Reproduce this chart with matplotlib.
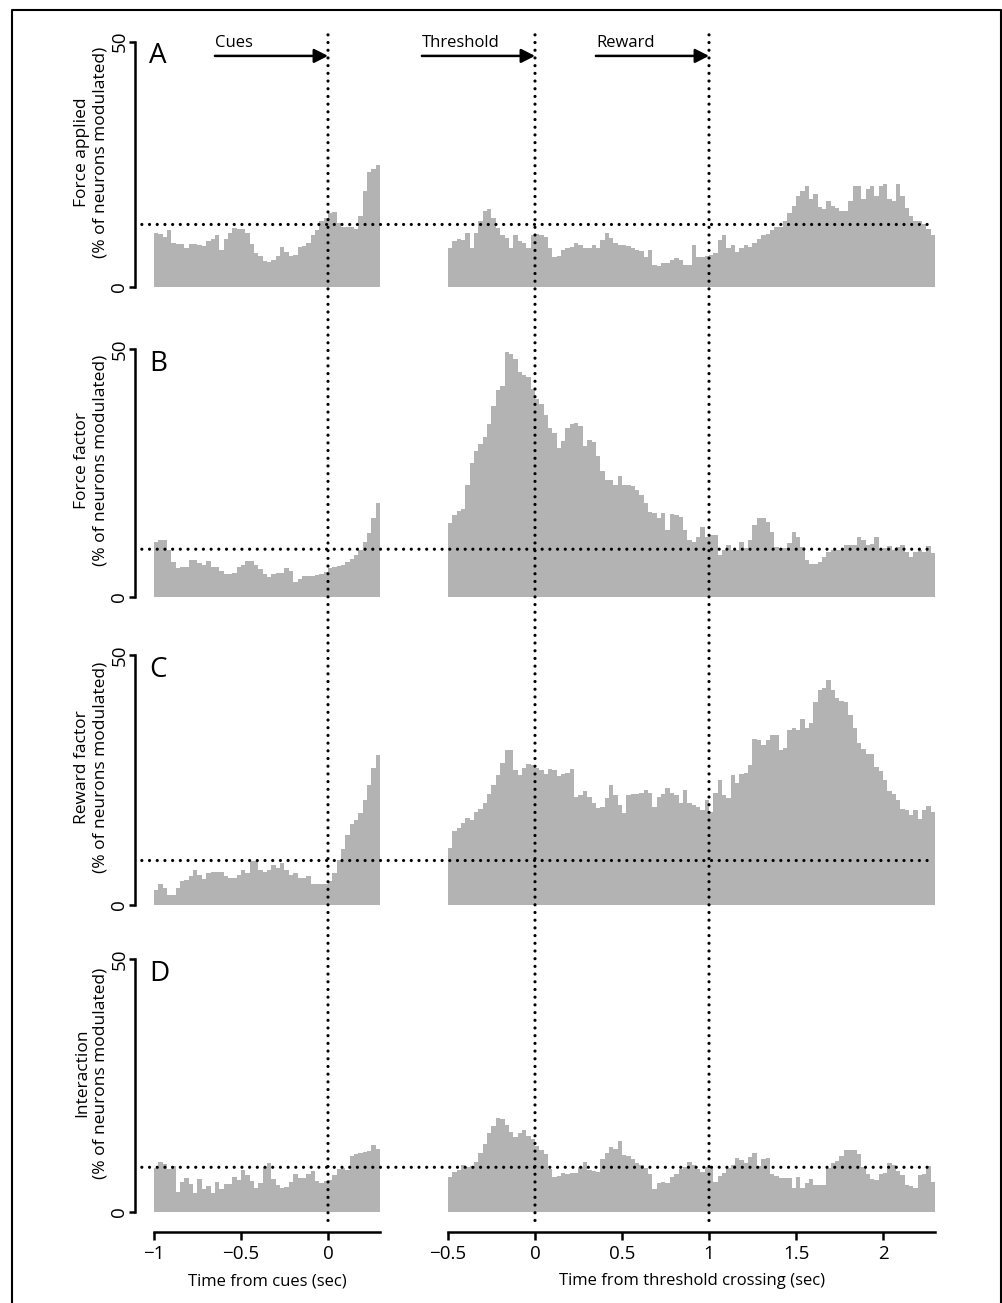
import numpy as np
import matplotlib
matplotlib.use('Agg')
import matplotlib.pyplot as plt
from matplotlib.patches import ConnectionPatch
from matplotlib.lines import Line2D
from matplotlib.transforms import blended_transform_factory

plt.rcParams['font.family'] = ['Open Sans', 'DejaVu Sans']

# bins: 25 ms, cue window -1..0.3 s, threshold window -0.5..2.3 s
bin_width = 0.025
cue_start, thr_start = -1.0, -0.5

panel_letters = ['A', 'B', 'C', 'D']
panel_names = ['Force applied', 'Force factor', 'Reward factor', 'Interaction']
chance_level = [12.7, 9.6, 8.9, 8.8]

force_applied_cue = [11.0, 10.8, 10.2, 11.5, 9.0, 8.8, 8.8, 7.8, 8.8, 8.8,
                     8.5, 8.3, 9.3, 9.8, 10.5, 7.5, 9.8, 11.0, 12.0, 11.8,
                     11.8, 11.0, 8.8, 6.8, 6.3, 5.3, 5.0, 5.5, 6.2, 8.2,
                     7.0, 6.2, 6.5, 8.2, 8.4, 9.0, 10.5, 11.5, 13.5, 14.0,
                     15.0, 15.3, 13.0, 12.2, 12.2, 12.2, 11.8, 14.5, 19.5, 23.5,
                     24.0, 24.8]
force_applied_thr = [7.8, 9.3, 9.8, 9.5, 11.0, 8.0, 11.0, 13.5, 15.5, 15.8,
                     14.0, 12.0, 10.5, 10.0, 8.0, 10.5, 9.3, 9.0, 8.0, 10.5,
                     10.8, 10.5, 10.2, 8.0, 6.0, 6.2, 7.5, 7.8, 8.2, 9.0,
                     8.5, 7.8, 7.8, 8.5, 8.0, 9.5, 11.0, 10.0, 9.0, 8.5,
                     8.5, 8.3, 8.0, 7.5, 7.3, 6.0, 7.5, 4.5, 4.3, 4.8,
                     4.8, 5.5, 5.8, 5.5, 4.5, 4.5, 8.5, 6.0, 6.0, 6.2,
                     6.5, 6.8, 9.5, 10.5, 8.0, 8.5, 7.0, 8.0, 8.5, 8.2,
                     9.0, 9.8, 10.5, 10.8, 11.5, 12.2, 12.2, 13.5, 15.0, 16.5,
                     18.5, 19.5, 20.5, 18.0, 19.0, 16.2, 15.8, 17.5, 16.5, 16.0,
                     15.5, 15.5, 17.5, 20.5, 20.5, 18.0, 20.0, 20.5, 18.5, 20.5,
                     21.0, 18.0, 17.5, 21.0, 18.5, 16.0, 14.5, 13.5, 13.5, 12.8,
                     11.8, 10.5]

force_factor_cue = [11.0, 11.5, 11.5, 9.5, 7.0, 5.8, 6.0, 6.0, 7.4, 7.4,
                    6.8, 6.5, 7.2, 6.0, 6.0, 5.2, 4.5, 4.6, 4.8, 6.0,
                    6.5, 7.2, 7.3, 6.5, 5.5, 4.6, 4.0, 4.5, 4.8, 4.8,
                    5.7, 5.2, 3.0, 3.6, 4.2, 4.2, 4.2, 4.4, 4.6, 5.0,
                    5.8, 6.0, 6.2, 6.5, 7.0, 7.6, 8.5, 9.5, 11.0, 12.8,
                    16.0, 19.0]
force_factor_thr = [14.8, 16.5, 17.3, 17.8, 22.5, 27.0, 29.5, 30.8, 32.3, 35.0,
                    38.5, 41.8, 42.5, 49.5, 49.0, 48.0, 45.5, 44.8, 44.5, 42.0,
                    40.0, 39.0, 36.8, 34.0, 33.0, 30.0, 31.5, 34.0, 35.0, 35.2,
                    34.4, 30.5, 31.7, 31.2, 28.5, 25.5, 23.5, 23.5, 22.5, 24.3,
                    22.6, 22.6, 22.4, 21.5, 20.5, 19.0, 17.2, 17.0, 16.0, 17.0,
                    13.5, 16.8, 16.5, 16.1, 13.5, 11.5, 11.1, 12.0, 14.0, 12.1,
                    12.5, 12.5, 8.4, 9.5, 10.4, 9.4, 9.4, 11.0, 9.8, 11.5,
                    14.5, 16.0, 16.0, 15.0, 13.1, 10.0, 9.8, 9.8, 10.8, 13.0,
                    12.1, 10.0, 7.5, 6.7, 6.7, 7.0, 8.0, 9.0, 9.4, 9.4,
                    9.4, 10.5, 10.4, 10.4, 12.0, 11.5, 10.4, 10.6, 12.0, 9.6,
                    9.8, 10.2, 9.4, 10.0, 10.5, 9.0, 8.0, 9.0, 9.4, 9.0,
                    10.2, 8.8]

reward_factor_cue = [3.0, 4.3, 3.5, 2.0, 2.0, 3.5, 4.8, 5.0, 5.8, 7.0,
                     6.0, 5.2, 6.5, 6.7, 6.7, 6.7, 5.8, 5.5, 5.5, 6.0,
                     7.0, 6.5, 8.8, 8.8, 7.0, 6.7, 7.0, 8.0, 7.5, 8.5,
                     7.0, 6.0, 6.5, 5.5, 5.5, 5.8, 4.3, 4.3, 4.3, 4.3,
                     4.8, 6.5, 9.0, 11.3, 14.0, 16.3, 17.0, 18.5, 21.0, 24.0,
                     27.5, 30.0]
reward_factor_thr = [11.5, 14.8, 15.5, 16.5, 17.5, 17.0, 18.7, 19.3, 20.5, 22.3,
                     24.0, 26.0, 28.5, 31.0, 31.0, 27.0, 26.0, 27.5, 28.3, 28.0,
                     27.5, 27.0, 26.3, 27.3, 27.0, 25.8, 26.3, 26.5, 27.3, 21.7,
                     22.0, 22.8, 21.7, 20.5, 19.5, 19.7, 21.5, 24.0, 22.0, 20.0,
                     18.5, 22.0, 22.3, 22.3, 22.5, 23.0, 22.5, 19.7, 21.7, 22.3,
                     23.5, 22.5, 22.0, 20.5, 23.0, 20.5, 20.0, 19.6, 19.0, 21.0,
                     18.7, 22.5, 25.0, 22.0, 21.5, 26.0, 24.5, 26.3, 26.5, 28.0,
                     33.3, 33.0, 32.0, 33.0, 34.0, 34.0, 31.0, 31.5, 35.0, 35.5,
                     35.0, 37.3, 35.5, 36.5, 40.7, 43.0, 43.5, 45.0, 43.0, 41.5,
                     40.8, 40.7, 38.0, 35.5, 32.5, 31.3, 30.3, 30.3, 27.7, 26.8,
                     25.0, 22.8, 22.3, 21.0, 19.3, 19.0, 18.0, 19.0, 17.3, 19.0,
                     19.8, 18.7]

interaction_cue = [8.6, 9.8, 9.5, 8.5, 9.0, 4.0, 5.8, 6.6, 5.5, 3.8,
                   6.5, 4.5, 5.0, 3.8, 5.9, 4.5, 5.5, 5.5, 6.9, 6.3,
                   8.3, 7.3, 6.0, 4.6, 5.6, 8.8, 9.6, 6.5, 5.3, 4.6,
                   4.8, 5.8, 7.5, 6.6, 6.6, 7.5, 8.0, 6.0, 5.6, 6.0,
                   6.3, 7.3, 8.5, 8.6, 8.2, 11.0, 11.5, 11.6, 11.8, 12.0,
                   13.3, 12.5]
interaction_thr = [6.8, 7.8, 8.3, 9.2, 8.9, 9.0, 9.9, 11.6, 13.5, 15.5,
                   17.0, 18.5, 18.3, 17.2, 15.8, 14.8, 15.5, 16.2, 15.0, 14.5,
                   13.0, 12.2, 11.5, 8.5, 6.9, 7.0, 7.6, 7.4, 7.6, 7.6,
                   8.9, 9.9, 8.3, 8.0, 7.9, 10.5, 11.6, 12.9, 12.5, 14.0,
                   11.2, 11.0, 10.5, 9.6, 9.2, 8.6, 7.5, 4.5, 5.6, 5.8,
                   5.6, 6.9, 7.5, 8.5, 8.8, 9.9, 9.2, 8.5, 7.8, 8.8,
                   9.0, 5.9, 7.0, 7.6, 8.6, 9.2, 10.6, 10.3, 9.6, 10.9,
                   11.6, 9.0, 10.4, 10.6, 7.5, 7.0, 6.6, 6.6, 6.6, 4.6,
                   6.8, 4.6, 5.6, 6.4, 5.3, 5.3, 5.3, 8.6, 9.6, 10.0,
                   11.0, 12.2, 12.2, 12.2, 11.5, 8.9, 7.5, 6.5, 6.3, 7.5,
                   7.6, 9.6, 9.3, 8.0, 7.2, 5.3, 5.0, 4.6, 7.2, 7.5,
                   9.0, 5.9]

cue_series = [force_applied_cue, force_factor_cue, reward_factor_cue, interaction_cue]
thr_series = [force_applied_thr, force_factor_thr, reward_factor_thr, interaction_thr]

cue_ticks = [-1, -0.5, 0]
thr_ticks = [-0.5, 0, 0.5, 1, 1.5, 2]
events = [('Cues', 'cue', 0.0), ('Threshold', 'thr', 0.0), ('Reward', 'thr', 1.0)]

BAR = '#b3b3b3'
W, H = 1003, 1303
PX_PER_SEC = 174.0

fig = plt.figure(figsize=(W / 100, H / 100), dpi=100)

# pixel rows: (value 0, value 50)
rows = [(286.7, 41.7), (596.7, 349.3), (905.0, 655.0), (1211.7, 959.3)]
cue_zero_px, thr_zero_px = 328.0, 535.0
cue_xlim, thr_xlim = (-1.109, 0.36), (-0.55, 2.35)


def add_axes(zero_px, xlim, y0, y50):
    pu = (y0 - y50) / 50.0
    bot, top = y0 + 2 * pu, y50 - 2 * pu
    x0 = zero_px + PX_PER_SEC * xlim[0]
    x1 = zero_px + PX_PER_SEC * xlim[1]
    ax = fig.add_axes([x0 / W, 1 - bot / H, (x1 - x0) / W, (bot - top) / H])
    ax.set_xlim(*xlim)
    ax.set_ylim(-2, 52)
    ax.patch.set_visible(False)
    for s in ('top', 'right'):
        ax.spines[s].set_visible(False)
    return ax


def fmt(v):
    return f'{v:g}'.replace('-', '\u2212')


cue_axes, thr_axes = [], []
for i, (y0, y50) in enumerate(rows):
    axl = add_axes(cue_zero_px, cue_xlim, y0, y50)
    axr = add_axes(thr_zero_px, thr_xlim, y0, y50)
    cue_axes.append(axl)
    thr_axes.append(axr)

    cue_edges = cue_start + bin_width * np.arange(len(cue_series[i]) + 1)
    thr_edges = thr_start + bin_width * np.arange(len(thr_series[i]) + 1)
    axl.stairs(cue_series[i], cue_edges, fill=True, color=BAR, linewidth=0)
    axr.stairs(thr_series[i], thr_edges, fill=True, color=BAR, linewidth=0)

    # y axis only on the left panel
    axl.spines['left'].set_bounds(0, 50)
    axl.spines['left'].set_linewidth(1.8)
    axl.set_yticks([0, 50])
    axl.set_yticklabels(['0', '50'], rotation=90, va='center')
    axl.tick_params(axis='y', length=4, width=1.8, pad=0.8, labelsize=13.5)
    axl.set_ylabel(f'{panel_names[i]}\n(% of neurons modulated)', fontsize=12.5,
                   linespacing=1.25)
    axl.yaxis.set_label_coords(-0.102, (27.5 + 2) / 54)
    axr.spines['left'].set_visible(False)
    axr.set_yticks([])

    axl.text(-1.03, 49.9, panel_letters[i], fontsize=20, ha='left', va='top')

    if i < 3:
        for ax in (axl, axr):
            ax.spines['bottom'].set_visible(False)
            ax.set_xticks([])

# bottom x axes
axl, axr = cue_axes[-1], thr_axes[-1]
for ax, ticks, bounds, label, mid in (
        (axl, cue_ticks, (cue_start, 0.3), 'Time from cues (sec)', -0.35),
        (axr, thr_ticks, (thr_start, 2.3), 'Time from threshold crossing (sec)', 0.9)):
    ax.spines['bottom'].set_position(('outward', 7.5))
    ax.spines['bottom'].set_bounds(*bounds)
    ax.spines['bottom'].set_linewidth(1.8)
    ax.set_xticks(ticks, [fmt(t) for t in ticks])
    ax.tick_params(axis='x', length=6, width=1.8, pad=3, labelsize=13.5)
    ax.set_xlabel(label, fontsize=12)
    ax.xaxis.set_label_coords(mid, -0.188,
                              transform=blended_transform_factory(ax.transData, ax.transAxes))

# event arrows on the top row
top_axes = {'cue': cue_axes[0], 'thr': thr_axes[0]}
for name, which, t in events:
    ax = top_axes[which]
    ax.annotate('', xy=(t, 47.1), xytext=(t - 0.65, 47.1), annotation_clip=False,
                arrowprops=dict(arrowstyle='-|>,head_length=0.55,head_width=0.28',
                                lw=1.8, color='black', shrinkA=0, shrinkB=0,
                                mutation_scale=15))
    ax.text(t - 0.65, 49.0, name, fontsize=12, ha='left', va='baseline', clip_on=False)

dots = dict(linestyle=(0, (0.01, 2.4)), lw=2.3, color='black', capstyle='round',
            arrowstyle='-')

# vertical event lines through all rows
for name, which, t in events:
    col = cue_axes if which == 'cue' else thr_axes
    fig.add_artist(ConnectionPatch(xyA=(t, 51.4), coordsA=col[0].transData,
                                   xyB=(t, -2.0), coordsB=col[-1].transData, **dots))

# chance level lines spanning both panels
for i, lvl in enumerate(chance_level):
    fig.add_artist(ConnectionPatch(xyA=(-1.07, lvl), coordsA=cue_axes[i].transData,
                                   xyB=(2.28, lvl), coordsB=thr_axes[i].transData, **dots))

# outer frame (bottom edge falls outside the image)
fig.add_artist(Line2D([12 / W, 12 / W, 1001 / W, 1001 / W],
                      [-0.01, 1 - 10 / H, 1 - 10 / H, -0.01],
                      transform=fig.transFigure, lw=1.5, color='black'))

fig.savefig('out.png', dpi=100)
